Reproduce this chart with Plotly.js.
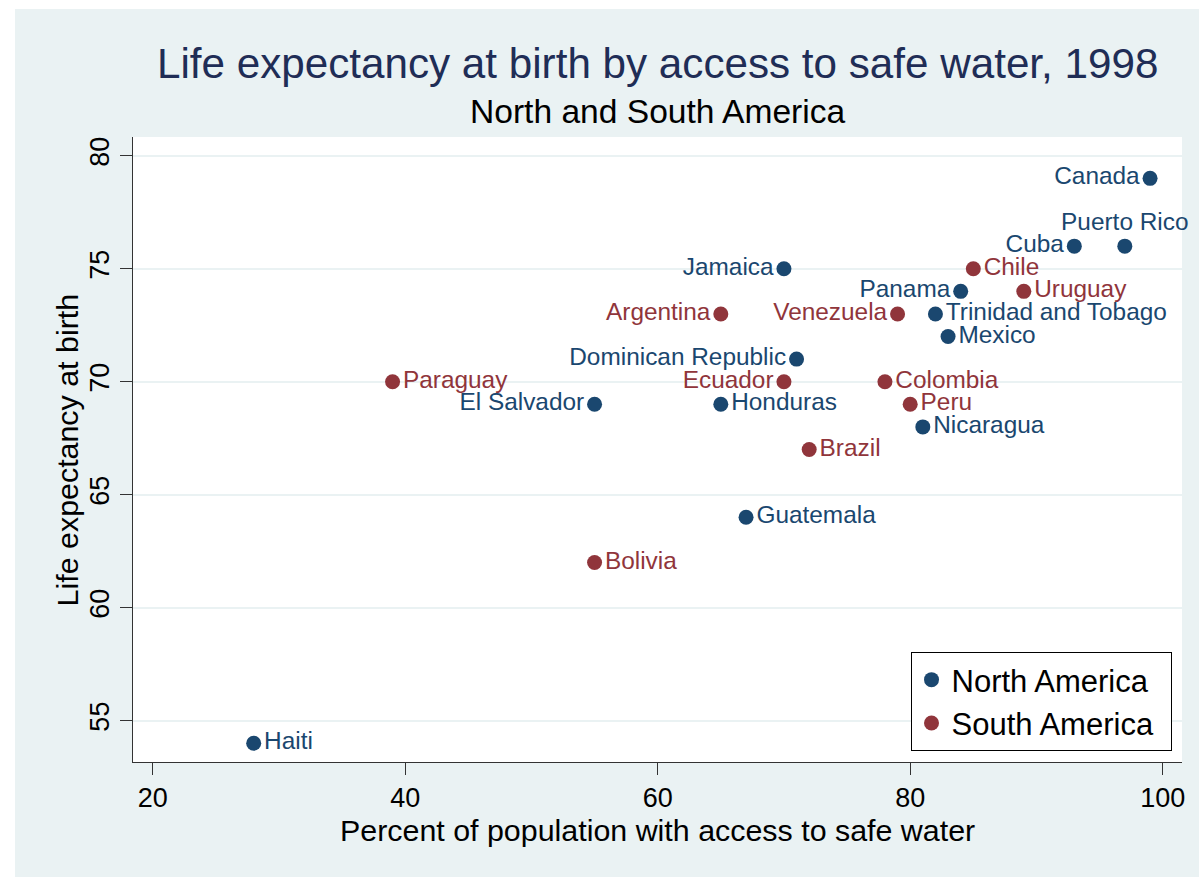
<!DOCTYPE html>
<html>
<head>
<meta charset="utf-8">
<script src="https://cdn.plot.ly/plotly-3.0.1.min.js"></script>
<style>
  html, body { margin: 0; padding: 0; background: #ffffff; width: 1199px; height: 877px; overflow: hidden; }
  #chart { position: absolute; left: 15px; top: 9px; width: 1184px; height: 868px; }
</style>
</head>
<body>
<div id="chart"></div>
<script>
// North America
const naCountries = ["Canada","Puerto Rico","Cuba","Jamaica","Panama","Trinidad and Tobago","Mexico","Dominican Republic","El Salvador","Honduras","Nicaragua","Guatemala","Haiti"];
const naWater     = [99, 97, 93, 70, 84, 82, 83, 71, 55, 65, 81, 67, 28];
const naLife      = [79, 76, 76, 75, 74, 73, 72, 71, 69, 69, 68, 64, 54];
const naLabelPos  = ["middle left","top center","middle left","middle left","middle left","middle right","middle right","middle left","middle left","middle right","middle right","middle right","middle right"];

// South America
const saCountries = ["Chile","Uruguay","Argentina","Venezuela","Paraguay","Ecuador","Colombia","Peru","Brazil","Bolivia"];
const saWater     = [85, 89, 65, 79, 39, 70, 78, 80, 72, 55];
const saLife      = [75, 74, 73, 73, 70, 70, 70, 69, 67, 62];
const saLabelPos  = ["middle right","middle right","middle left","middle left","middle right","middle left","middle right","middle right","middle right","middle right"];

const xTicks = [20, 40, 60, 80, 100];
const yTicks = [55, 60, 65, 70, 75, 80];

const NAVY = "#1A476F";
const MAROON = "#90353B";
const BG = "#EAF2F3";
const FONT = "Liberation Sans, Arial, Helvetica, sans-serif";

const traces = [
  {
    type: "scatter", mode: "markers+text", name: "North America\u00a0\u00a0",
    x: naWater, y: naLife, text: naCountries, textposition: naLabelPos,
    marker: { color: NAVY, size: 15, symbol: "circle" },
    textfont: { family: FONT, size: 24.4, color: NAVY },
    cliponaxis: false, hoverinfo: "text+x+y"
  },
  {
    type: "scatter", mode: "markers+text", name: "South America\u00a0",
    x: saWater, y: saLife, text: saCountries, textposition: saLabelPos,
    marker: { color: MAROON, size: 15, symbol: "circle" },
    textfont: { family: FONT, size: 24.4, color: MAROON },
    cliponaxis: false, hoverinfo: "text+x+y"
  }
];

const layout = {
  width: 1184, height: 868,
  margin: { l: 118, r: 17, t: 128, b: 115 },
  paper_bgcolor: BG,
  plot_bgcolor: "#ffffff",
  font: { family: FONT, color: "#000000" },
  showlegend: true,
  legend: {
    x: 0.990, y: 0.0176, xanchor: "right", yanchor: "bottom",
    bgcolor: "#ffffff", bordercolor: "#000000", borderwidth: 1,
    font: { family: FONT, size: 31, color: "#000000" },
    tracegroupgap: 0
  },
  xaxis: {
    range: [18.44, 101.53],
    tickvals: xTicks, ticktext: xTicks.map(String),
    ticks: "outside", ticklen: 12, tickwidth: 1, tickcolor: "#333333",
    showline: true, linecolor: "#333333", linewidth: 1,
    showgrid: false, zeroline: false,
    tickfont: { family: FONT, size: 27, color: "#000000" }
  },
  yaxis: {
    range: [53.17, 80.83],
    tickvals: yTicks, ticktext: yTicks.map(String),
    ticks: "outside", ticklen: 12, tickwidth: 1, tickcolor: "#333333",
    showline: true, linecolor: "#333333", linewidth: 1,
    showgrid: true, gridcolor: BG, gridwidth: 2, zeroline: false,
    tickangle: -90,
    tickfont: { family: FONT, size: 27, color: "#000000" }
  },
  annotations: [
    { text: "Life expectancy at birth by access to safe water, 1998", xref: "paper", yref: "paper",
      x: 0.5, y: 1.118, xanchor: "center", yanchor: "middle", showarrow: false,
      font: { family: FONT, size: 42.2, color: "#1F2D56" } },
    { text: "North and South America", xref: "paper", yref: "paper",
      x: 0.5, y: 1.04, xanchor: "center", yanchor: "middle", showarrow: false,
      font: { family: FONT, size: 33.6, color: "#000000" } },
    { text: "Percent of population with access to safe water", xref: "paper", yref: "paper",
      x: 0.5, y: -0.108, xanchor: "center", yanchor: "middle", showarrow: false,
      font: { family: FONT, size: 30.4, color: "#000000" } },
    { text: "Life expectancy at birth", xref: "paper", yref: "paper",
      x: -0.063, y: 0.5, xanchor: "center", yanchor: "middle", showarrow: false, textangle: -90,
      font: { family: FONT, size: 30.4, color: "#000000" } }
  ]
};

Plotly.newPlot("chart", traces, layout, { displayModeBar: false, staticPlot: true });
</script>
</body>
</html>
